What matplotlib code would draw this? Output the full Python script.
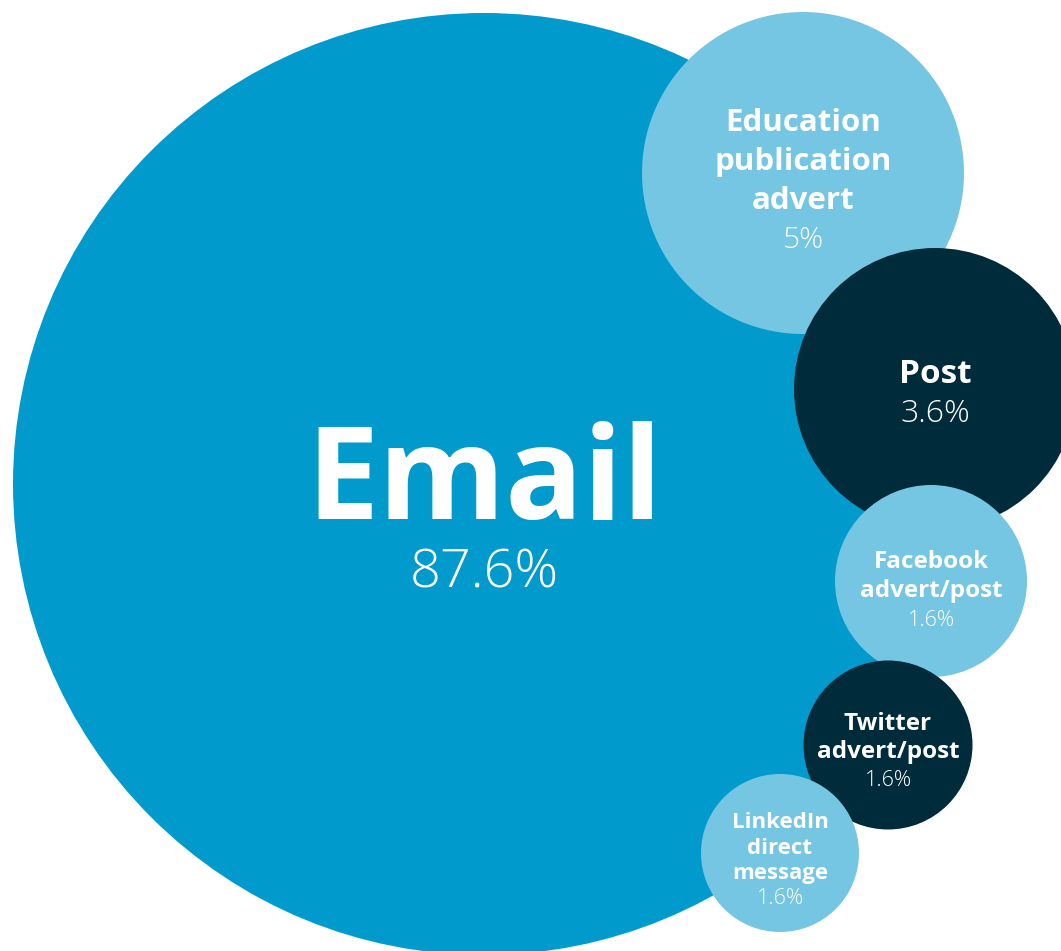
import matplotlib.pyplot as plt
from matplotlib.patches import Circle

# Data: how people heard about it
channels = ['Email', 'Education\npublication\nadvert', 'Post',
            'Facebook\nadvert/post', 'Twitter\nadvert/post',
            'LinkedIn\ndirect\nmessage']
shares = [87.6, 5, 3.6, 1.6, 1.6, 1.6]

# Styling / layout (pixel space of the 1061x951 canvas)
colors = ['#009bcc', '#75c6e2', '#002b3a', '#75c6e2', '#002b3a', '#75c6e2']
centers = [(484, 484), (803, 173), (935, 389), (931, 581), (888, 745), (780, 853)]
radii = [471, 161, 141, 96, 84.5, 79]
name_sizes = [93, 22.5, 24, 17.5, 17.5, 16]
pct_sizes = [39, 21.5, 23, 15.5, 15.5, 15.5]
first_baseline = [519, 131, 383, 568, 730, 828]
line_step = [68, 39, 39, 29, 28, 25.5]

plt.rcParams['font.family'] = ['Open Sans', 'DejaVu Sans']

fig = plt.figure(figsize=(10.61, 9.51), dpi=100)
ax = fig.add_axes([0, 0, 1, 1])
ax.set_xlim(0, 1061)
ax.set_ylim(951, 0)
ax.set_aspect('equal')
ax.axis('off')

for i, (name, val) in enumerate(zip(channels, shares)):
    cx, cy = centers[i]
    ax.add_patch(Circle((cx, cy), radii[i], color=colors[i], lw=0, zorder=i + 1))
    # bold name, one line at a time, then the share in a light weight
    y = first_baseline[i]
    for ln in name.split('\n'):
        ax.text(cx, y, ln, color='white', fontsize=name_sizes[i], fontweight='bold',
                ha='center', va='baseline', zorder=20)
        y += line_step[i]
    ax.text(cx, y, f'{val:g}%', color='white', fontsize=pct_sizes[i], fontweight='light',
            ha='center', va='baseline', zorder=20)

fig.savefig('out.png', dpi=100)
